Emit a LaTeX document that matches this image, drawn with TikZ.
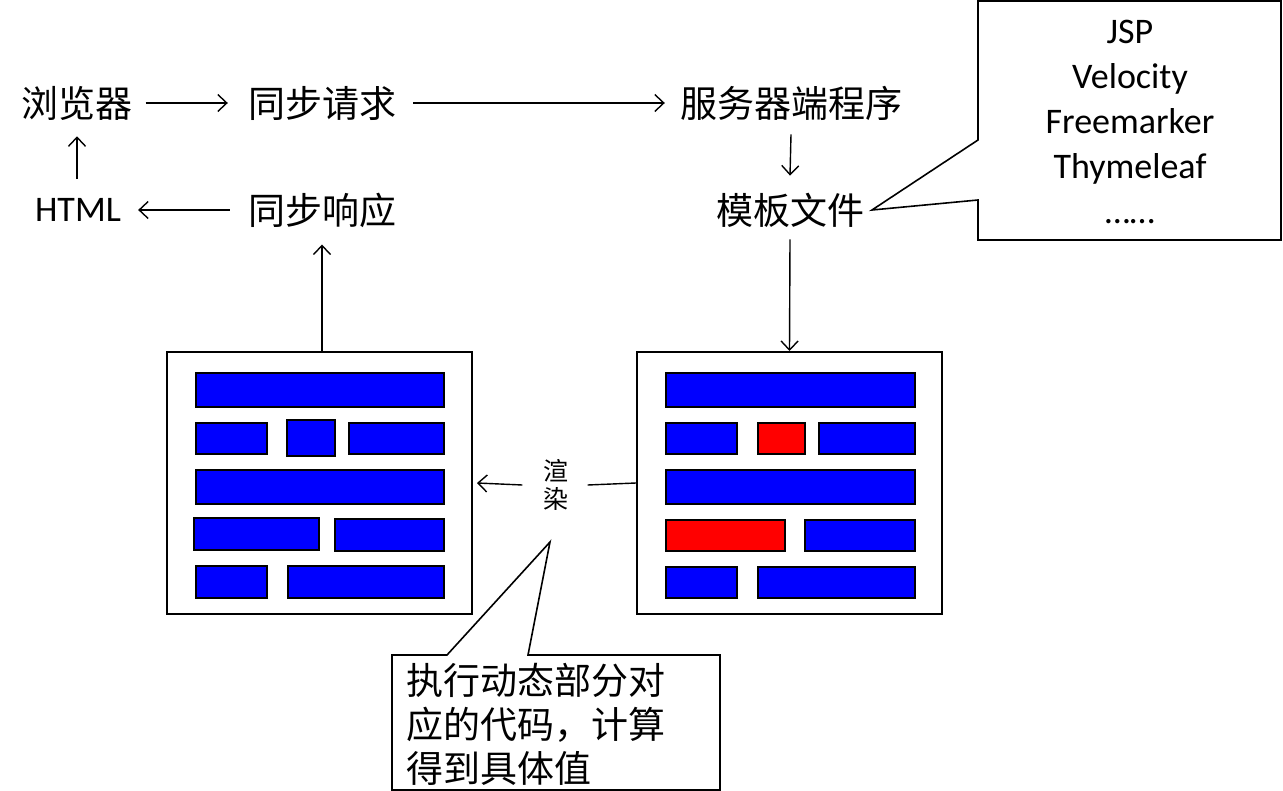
\documentclass[tikz,border=0pt]{standalone}
\usepackage{fontspec}
\setmainfont{Carlito}
\newfontfamily\cjk{Noto Sans CJK SC}
\usetikzlibrary{arrows.meta}
\tikzset{
  lbl/.style={inner sep=0pt, font=\cjk\fontsize{37}{42}\selectfont},
  arr/.style={line width=1.4pt, -{Straight Barb[length=9pt,width=17pt,line width=1.4pt]}},
  plain/.style={line width=1.4pt},
  page/.style={draw, line width=2pt, fill=white, minimum width=305pt, minimum height=262pt, inner sep=0pt},
  bar/.style={draw, line width=1.5pt, fill=blue},
  rbar/.style={draw, line width=1.5pt, fill=red},
  callout/.style={draw, line width=1.6pt, fill=white},
}
\begin{document}
\begin{tikzpicture}[x=1pt,y=-1pt]
\useasboundingbox (0,0) rectangle (1283,791);
% text labels
\node[lbl] (browser) at (77,103) {浏览器};
\node[lbl] (req) at (322,103) {同步请求};
\node[lbl] (server) at (791,103) {服务器端程序};
\node[lbl] (tmpl) at (790,210) {模板文件};
\node[lbl] (resp) at (322,210) {同步响应};
\node[inner sep=0pt, font=\fontsize{36}{42}\selectfont] (html) at (78,210) {HTML};
% pages
\node[page] (lp) at (319.5,483) {};
\node[page] (rp) at (789.5,483) {};
% left page bars
\draw[bar] (196,373) rectangle (444,407);
\draw[bar] (196,423) rectangle (267,454);
\draw[bar] (287,420) rectangle (335,456);
\draw[bar] (349,423) rectangle (444,454);
\draw[bar] (196,470) rectangle (444,504);
\draw[bar] (194,518) rectangle (319,550);
\draw[bar] (335,519) rectangle (444,551);
\draw[bar] (196,566) rectangle (267,598);
\draw[bar] (288,566) rectangle (444,598);
% right page bars
\draw[bar] (666,373) rectangle (915,407);
\draw[bar] (666,423) rectangle (737,454);
\draw[rbar] (758,423) rectangle (805,454);
\draw[bar] (819,423) rectangle (915,454);
\draw[bar] (666,470) rectangle (915,504);
\draw[rbar] (666,520) rectangle (785,551);
\draw[bar] (805,520) rectangle (915,551);
\draw[bar] (666,567) rectangle (737,598);
\draw[bar] (758,567) rectangle (915,598);
% render label
\node[inner sep=0pt, font=\cjk\fontsize{25}{28}\selectfont, align=center] (render) at (556,485) {渲\\染};
% arrows
\draw[arr] ([xshift=13pt]browser.east) -- ([xshift=-20pt]req.west);
\draw[arr] ([xshift=17pt]req.east) -- ([xshift=-15pt]server.west);
\draw[arr] ([yshift=-14pt]server.south) -- ([yshift=17pt]tmpl.north);
\draw[arr] ([yshift=19pt]html.north -| browser) -- ([yshift=-16pt]browser.south);
\draw[arr] ([xshift=-18pt]resp.west) -- ([xshift=17pt]html.east);
\draw[arr] ([yshift=-12pt]tmpl.south) -- (rp.north);
\draw[arr] (resp |- lp.north) -- ([yshift=-17pt]resp.south);
\draw[plain] (rp.west) -- ([xshift=19pt]render.east);
\draw[arr] ([xshift=-21pt]render.west) -- ([xshift=4pt]lp.east);
% callout top right
\draw[callout] (978,1) -- (1281,1) -- (1281,240) -- (978,240) -- (978,200) -- (872,210) -- (978,140) -- cycle;
\node[inner sep=0pt, align=center, font=\fontsize{36}{45}\selectfont] (engines) at (1130,122) {JSP\\Velocity\\Freemarker\\Thymeleaf\\……};
% callout bottom
\draw[callout] (392,655) -- (447,655) -- (550,542) -- (528,655) -- (720,655) -- (720,790) -- (392,790) -- cycle;
\node[inner sep=0pt, anchor=west, align=left, font=\cjk\fontsize{37}{44}\selectfont] (note) at (406,724) {执行动态部分对\\应的代码，计算\\得到具体值};
\end{tikzpicture}
\end{document}
